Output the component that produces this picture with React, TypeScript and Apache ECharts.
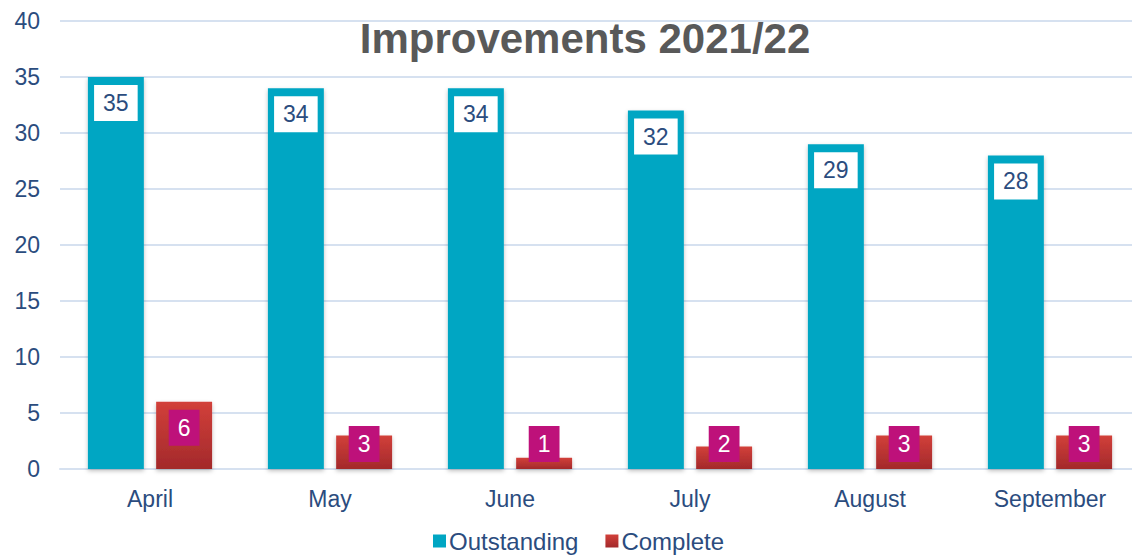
import React, { useEffect, useRef } from "react";
import * as echarts from "echarts";

const months = ["April", "May", "June", "July", "August", "September"];
const outstanding = [35, 34, 34, 32, 29, 28];
const complete = [6, 3, 1, 2, 3, 3];
const yTicks = { min: 0, max: 40, interval: 5 };
const chartTitle = "Improvements 2021/22";

const FONT = "Arial, 'Liberation Sans', sans-serif";
const BLUE_TEXT = "#2B4C7E";

export default function App() {
  const ref = useRef<HTMLDivElement>(null);
  useEffect(() => {
    document.body.style.margin = "0";
    const chart = echarts.init(ref.current!, null, { renderer: "svg" });
    const completeData = complete.map((v) => ({
      value: v,
      label:
        v * 11.2 < 60
          ? { position: "insideBottom", distance: 7 }
          : { position: "insideTop", distance: 8 },
    }));
    chart.setOption({
      animation: false,
      title: {
        text: chartTitle,
        left: 580,
        textAlign: "center",
        top: 12,
        textStyle: { fontFamily: FONT, fontSize: 42, fontWeight: "bold", color: "#595959" },
      },
      legend: {
        top: 524,
        left: 428,
        itemWidth: 13,
        itemHeight: 13,
        itemGap: 27,
        icon: "rect",
        textStyle: {
          fontFamily: FONT,
          fontSize: 24,
          lineHeight: 20,
          color: BLUE_TEXT,
          padding: [0, 0, 0, -2],
        },
        data: ["Outstanding", "Complete"],
      },
      grid: {
        left: 60,
        width: 1080,
        top: 21,
        bottom: 88,
        containLabel: false,
        outerBoundsMode: "none",
      },
      xAxis: {
        type: "category",
        data: months,
        axisTick: { show: false },
        axisLine: { lineStyle: { color: "#D6E1F0", width: 2 } },
        axisLabel: { fontFamily: FONT, fontSize: 23, color: BLUE_TEXT, margin: 18 },
      },
      yAxis: {
        type: "value",
        min: yTicks.min,
        max: yTicks.max,
        interval: yTicks.interval,
        axisLabel: { fontFamily: FONT, fontSize: 23, color: BLUE_TEXT, margin: 20 },
        splitLine: { lineStyle: { color: "#D6E1F0", width: 2 } },
        axisLine: { show: false },
        axisTick: { show: false },
      },
      series: [
        {
          name: "Outstanding",
          type: "bar",
          data: outstanding,
          barGap: "22%",
          barCategoryGap: "31%",
          itemStyle: {
            color: "#00A6C3",
            shadowBlur: 4,
            shadowColor: "rgba(0,0,0,0.25)",
            shadowOffsetY: 2,
          },
          label: {
            show: true,
            position: "insideTop",
            distance: 8,
            fontFamily: FONT,
            fontSize: 23,
            lineHeight: 26,
            color: BLUE_TEXT,
            backgroundColor: "#FFFFFF",
            padding: [5, 9],
          },
        },
        {
          name: "Complete",
          type: "bar",
          data: completeData,
          itemStyle: {
            color: new echarts.graphic.LinearGradient(0, 0, 0, 1, [
              { offset: 0, color: "#D2403A" },
              { offset: 1, color: "#A3292B" },
            ]),
            shadowBlur: 4,
            shadowColor: "rgba(0,0,0,0.25)",
            shadowOffsetY: 2,
          },
          label: {
            show: true,
            fontFamily: FONT,
            fontSize: 23,
            lineHeight: 26,
            color: "#FFFFFF",
            backgroundColor: "#BE117A",
            padding: [5, 9],
          },
        },
      ],
    });
    return () => chart.dispose();
  }, []);
  return <div ref={ref} style={{ width: 1132, height: 557 }} />;
}
